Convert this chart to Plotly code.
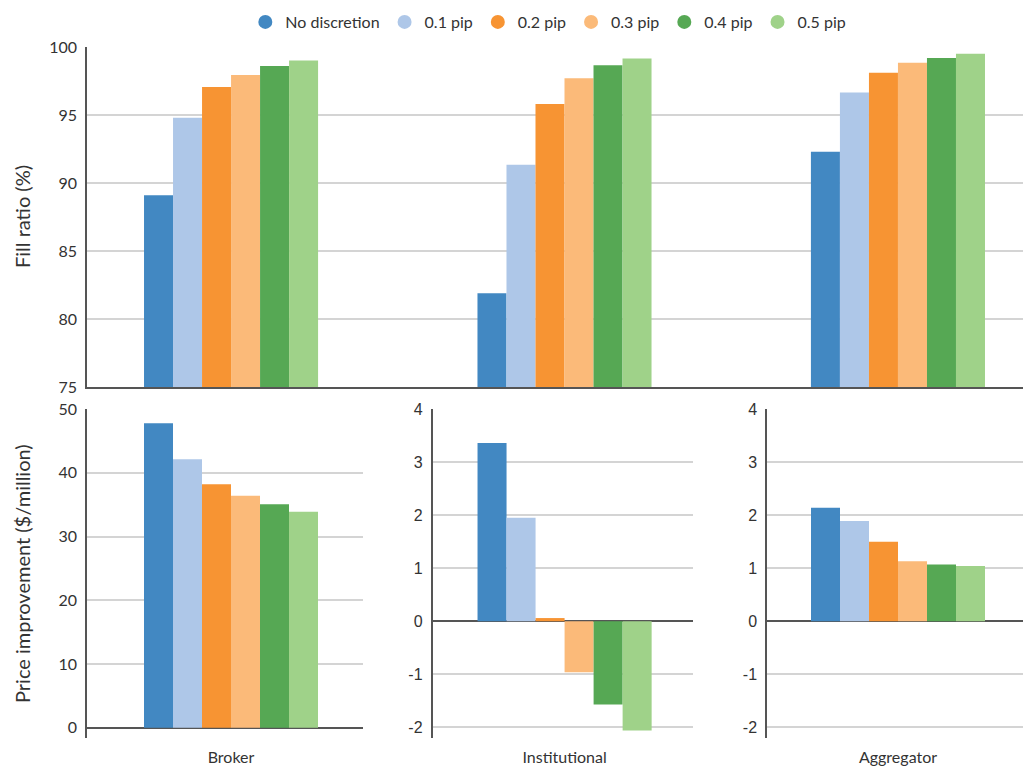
import plotly.graph_objects as go

# data
categories = ["Broker", "Institutional", "Aggregator"]
series_names = ["No discretion", "0.1 pip", "0.2 pip", "0.3 pip", "0.4 pip", "0.5 pip"]
series_colors = ["#4288c2", "#aec7e8", "#f79433", "#fbba79", "#56a854", "#9fd289"]

# fill ratio (%) per series, one value per category
fill_nodisc = [89.1, 81.9, 92.3]
fill_01 = [94.8, 91.35, 96.65]
fill_02 = [97.05, 95.8, 98.1]
fill_03 = [97.95, 97.7, 98.85]
fill_04 = [98.6, 98.65, 99.2]
fill_05 = [99.0, 99.15, 99.5]

# price improvement ($/million) per series, one value per category
pi_nodisc = [47.75, 3.36, 2.14]
pi_01 = [42.1, 1.95, 1.89]
pi_02 = [38.2, 0.06, 1.5]
pi_03 = [36.4, -0.96, 1.13]
pi_04 = [35.05, -1.57, 1.07]
pi_05 = [33.9, -2.06, 1.04]

# tick labels of the small panels (plain hyphen for the minus, as in the original)
small_tickvals = [-2, -1, 0, 1, 2, 3, 4]
small_ticktext = ["-2", "-1", "0", "1", "2", "3", "4"]

fill_all = [fill_nodisc, fill_01, fill_02, fill_03, fill_04, fill_05]
pi_all = [pi_nodisc, pi_01, pi_02, pi_03, pi_04, pi_05]

W, H = 1023, 767
def px_x(p):
    return p / W
def px_y(p):
    return 1 - p / H

fig = go.Figure()

# top panel: fill ratio, all categories on one axis
for name, color, vals in zip(series_names, series_colors, fill_all):
    fig.add_trace(go.Bar(x=categories, y=vals, name=name, marker=dict(color=color, line=dict(width=0)),
                         showlegend=False, xaxis="x", yaxis="y"))

# bottom panels: price improvement, one subplot per category
for i, cat in enumerate(categories):
    ax = str(i + 2)
    for name, color, vals in zip(series_names, series_colors, pi_all):
        fig.add_trace(go.Bar(x=[cat], y=[vals[i]], name=name, marker=dict(color=color, line=dict(width=0)),
                             showlegend=False, xaxis="x" + ax, yaxis="y" + ax))

# legend entries drawn as circles
for name, color in zip(series_names, series_colors):
    fig.add_trace(go.Scatter(x=[None], y=[None], mode="markers", name=name,
                             marker=dict(color=color, size=14, symbol="circle"),
                             xaxis="x", yaxis="y"))

grid_col = "#d4d4d4"
line_col = "#555555"
lato = dict(family="Lato", size=16, color="#333333")
arial = dict(family="Liberation Sans", size=16, color="#333333")

def yax(domain, rng, dtick, font, zero, anchor):
    return dict(domain=domain, range=rng, dtick=dtick, anchor=anchor, showgrid=True, gridcolor=grid_col,
                gridwidth=1.5, showline=True, linecolor=line_col, linewidth=1.5, zeroline=zero,
                zerolinecolor=line_col, zerolinewidth=1.5, ticks="", tickfont=font, ticklabelstandoff=5,
                automargin=False, fixedrange=True)

def xax(domain, rng, anchor, cats, showlabels, showline):
    return dict(domain=domain, range=rng, anchor=anchor, type="category", categoryorder="array",
                categoryarray=cats, showgrid=False, showline=showline, linecolor=line_col,
                linewidth=1.5, zeroline=False, ticks="", showticklabels=showlabels, tickfont=lato,
                ticklabelstandoff=8, automargin=False, fixedrange=True)

top_dom = [px_y(387), px_y(47)]
bot_dom = [px_y(738), px_y(409)]

inst_y = yax(bot_dom, [-2.2, 4], 1, arial, True, "x3")
inst_y.update(tickmode="array", tickvals=small_tickvals, ticktext=small_ticktext)
aggr_y = yax(bot_dom, [-2.2, 4], 1, arial, True, "x4")
aggr_y.update(tickmode="array", tickvals=small_tickvals, ticktext=small_ticktext)

fig.update_layout(
    width=W, height=H,
    template="none",
    paper_bgcolor="white", plot_bgcolor="white",
    margin=dict(l=0, r=0, t=0, b=0),
    barmode="group", bargap=0.478, bargroupgap=0,
    font=lato,
    xaxis=xax([px_x(87), 1.0], [-0.432, 2.375], "y", categories, False, True),
    yaxis=yax(top_dom, [75, 100], 5, lato, False, "x"),
    xaxis2=xax([px_x(87), px_x(363)], [-0.432, 0.396], "y2", [categories[0]], True, False),
    yaxis2=yax(bot_dom, [-1.6, 50], 10, lato, True, "x2"),
    xaxis3=xax([px_x(432.5), px_x(693)], [-0.396, 0.385], "y3", [categories[1]], True, False),
    yaxis3=inst_y,
    xaxis4=xax([px_x(767), 1.0], [-0.393, 0.375], "y4", [categories[2]], True, False),
    yaxis4=aggr_y,
    legend=dict(orientation="h", x=0.536, xanchor="center", y=px_y(22), yanchor="middle",
                font=dict(family="Lato", size=16, color="#333333"), itemwidth=30,
                bgcolor="rgba(0,0,0,0)"),
    annotations=[
        dict(text="Fill ratio (%)", x=px_x(22), y=px_y(217), xref="paper", yref="paper",
             xanchor="center", yanchor="middle", textangle=-90, showarrow=False,
             font=dict(family="Lato", size=20, color="#333333")),
        dict(text="Price improvement ($/million)", x=px_x(22), y=px_y(574), xref="paper", yref="paper",
             xanchor="center", yanchor="middle", textangle=-90, showarrow=False,
             font=dict(family="Lato", size=20, color="#333333")),
    ],
)

# drop the browser's default 8px body margin so the figure fills the window
fig.write_html("out.html", config={"displayModeBar": False},
               post_script="document.body.style.margin='0';")
